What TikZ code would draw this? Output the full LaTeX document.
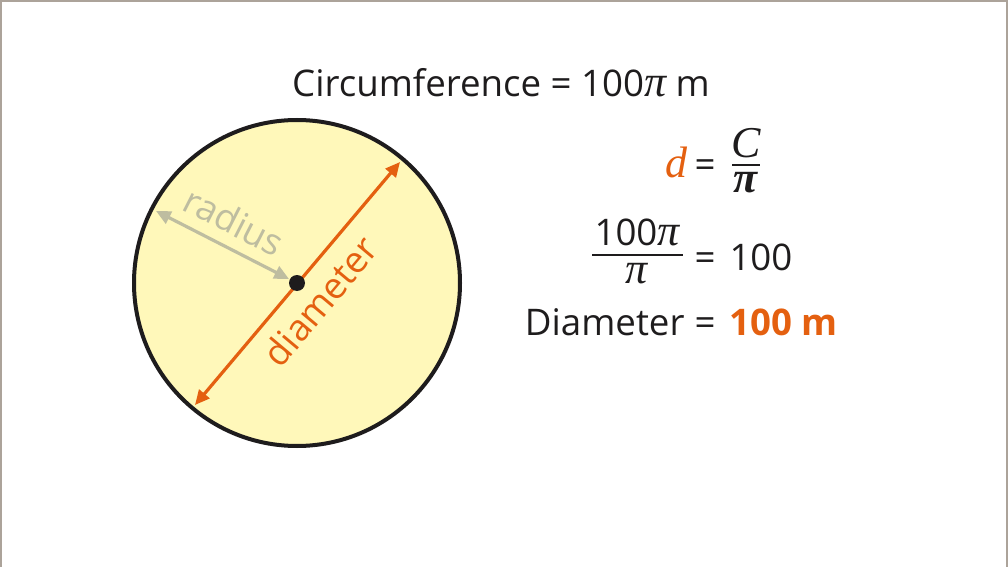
\documentclass[tikz,border=0pt]{standalone}
\usepackage{fontspec}
\setmainfont{Open Sans}
\newfontfamily\eqserif[Scale=1.2]{Liberation Serif}
\usetikzlibrary{arrows.meta}

\definecolor{framegray}{RGB}{172,163,154}
\definecolor{discfill}{RGB}{255,248,186}
\definecolor{inkblack}{RGB}{30,28,29}
\definecolor{dimorange}{RGB}{228,96,16}
\definecolor{radgray}{RGB}{190,189,160}

\tikzset{every picture/.style={line width=0.75pt}}
\tikzset{
  lbl/.style={inner sep=0pt, text=inkblack, font=\fontsize{27.5}{32}\selectfont},
  dimarrow/.style={line width=2.4pt, {Triangle[length=11pt,width=10pt]}-{Triangle[length=11pt,width=10pt]}},
  fracbar/.style={inkblack, line width=1.6pt}
}

\begin{document}
\begin{tikzpicture}[x=0.75pt,y=0.75pt,yscale=-1,xscale=1]
\useasboundingbox (0,0) rectangle (1008,567);

% Frame
\draw [framegray, line width=1.5pt] (1,567) -- (1,1) -- (1007,1) -- (1007,567);

% Circle
\coordinate (ctr) at (297,283);
\draw [inkblack, fill=discfill, line width=3pt] (ctr) circle [radius=163];

% Diameter
\coordinate (diaTop) at (400,162);
\coordinate (diaBot) at (195,405);
\draw [dimorange, dimarrow] (diaBot) -- (diaTop);

% Radius
\coordinate (radIn) at (289,279);
\coordinate (radOut) at (156,211);
\draw [radgray, dimarrow] (radOut) -- (radIn);

% Centre dot
\fill [inkblack] (ctr) circle [radius=8];

% Text Node
\node [lbl, text=radgray, rotate=-27] (radlbl) at (234,221) {radius};
% Text Node
\node [lbl, text=dimorange, rotate=50] (dialbl) at (320,301) {diameter};

% Text Node
\node [lbl, anchor=base] (circtxt) at (501,97) {Circumference = 100{\eqserif\itshape π} m};

% Text Node
\node [lbl, anchor=base] (eqA) at (705,178) {=};
\node [lbl, anchor=base east, text=dimorange] (dvar) at (688,178) {\eqserif\itshape d};
\node [lbl, anchor=base] (cnum) at (746,157) {\eqserif\itshape C};
\node [lbl, anchor=base] (piden) at (746,192) {\eqserif\bfseries\itshape π};
\coordinate (barAl) at (732,165);
\coordinate (barAr) at (760,165);
\draw [fracbar] (barAl) -- (barAr);

% Text Node
\node [lbl, anchor=base] (eqB) at (705,270) {=};
\node [lbl, anchor=base] (hnum) at (637,245) {100{\eqserif\itshape π}};
\node [lbl, anchor=base] (hden) at (637,283) {\eqserif\itshape π};
\node [lbl, anchor=base west] (hres) at (729,270) {100};
\coordinate (barBl) at (592,255);
\coordinate (barBr) at (683,255);
\draw [fracbar] (barBl) -- (barBr);

% Text Node
\node [lbl, anchor=base] (eqC) at (705,335) {=};
\node [lbl, anchor=base east] (diatxt) at (685,335) {Diameter};
\node [lbl, anchor=base west, text=dimorange] (diares) at (729,335) {\bfseries 100 m};

\end{tikzpicture}
\end{document}
